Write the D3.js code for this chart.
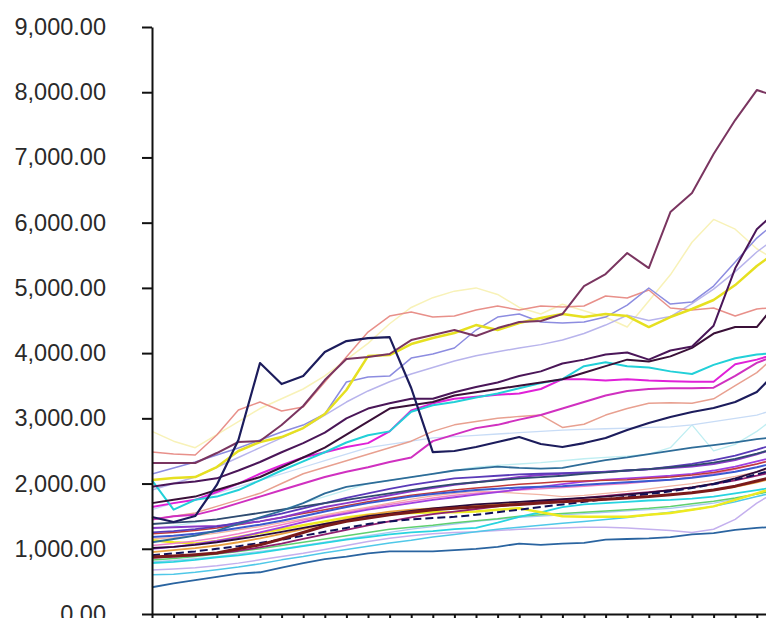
<!DOCTYPE html>
<html>
<head>
<meta charset="utf-8">
<script src="https://cdn.jsdelivr.net/npm/d3@7"></script>
<style>
  html, body { margin: 0; padding: 0; background: #fff; }
  svg { display: block; }
  .eixo text { font-family: "Liberation Sans", Arial, sans-serif; font-size: 23.5px; fill: #2a2a2a; }
  .eixo path, .eixo line { stroke: #111; stroke-width: 2; }
</style>
</head>
<body>
<svg id="grafico" width="766" height="618"></svg>
<script>
// valores por período (30 períodos, o último já fora da área visível)
const yTicks = [0, 1000, 2000, 3000, 4000, 5000, 6000, 7000, 8000, 9000];

const navySpike   = [1487,1410,1502,1978,2667,3848,3526,3649,4017,4185,4231,4246,3465,2483,2499,2560,2637,2713,2606,2560,2621,2698,2821,2928,3020,3097,3158,3250,3403,3740];
const maroonTop   = [2315,2315,2315,2468,2637,2652,2897,3189,3587,3909,3940,3986,4200,4277,4354,4262,4384,4476,4492,4599,5028,5212,5534,5304,6163,6454,7052,7573,8033,7926];
const salmonTop   = [2484,2453,2437,2744,3127,3250,3112,3173,3557,3940,4323,4568,4630,4553,4568,4660,4722,4660,4722,4706,4722,4875,4844,4967,4691,4660,4691,4568,4676,4706];
const yellowMain  = [2054,2085,2100,2253,2499,2637,2713,2851,3066,3434,3955,3970,4139,4231,4308,4430,4354,4461,4538,4599,4553,4599,4568,4400,4553,4676,4814,5043,5335,5580];
const paleYellow  = [2800,2650,2550,2750,2950,3150,3300,3450,3650,3900,4150,4450,4700,4850,4950,5000,4900,4700,4600,4750,4650,4550,4400,4800,5200,5700,6050,5900,5600,5400];
const lavender    = [2146,2238,2330,2437,2545,2667,2790,2897,3066,3557,3633,3648,3924,3986,4078,4354,4553,4599,4476,4461,4476,4553,4737,4998,4752,4783,5028,5396,5764,6040];
const lavenderLt  = [1900,2000,2100,2250,2400,2550,2700,2850,3050,3250,3420,3560,3680,3780,3880,3960,4020,4080,4130,4200,4300,4430,4580,4500,4560,4760,4980,5250,5550,5800];
const purpleDark  = [1950,2000,2030,2080,2200,2330,2480,2620,2780,3000,3150,3230,3300,3300,3400,3480,3550,3650,3720,3840,3900,3980,4010,3900,4040,4100,4420,5300,5900,6200];
const plumDark    = [1700,1750,1800,1900,2000,2100,2250,2400,2550,2750,2950,3150,3200,3250,3350,3400,3450,3500,3550,3600,3700,3800,3900,3870,3950,4080,4300,4400,4400,4800];
const magentaHi   = [1640,1700,1750,1870,2000,2150,2280,2400,2480,2560,2620,2800,3120,3230,3300,3330,3360,3380,3450,3600,3600,3580,3600,3580,3570,3560,3560,3830,3900,4000];
const magentaLo   = [1450,1500,1520,1600,1700,1800,1900,2000,2100,2180,2250,2330,2400,2650,2750,2850,2900,2980,3050,3150,3250,3350,3420,3450,3460,3460,3470,3650,3850,3980];
const cyanHi      = [2050,1600,1750,1800,1900,2050,2200,2340,2480,2630,2740,2800,3100,3200,3250,3320,3380,3460,3540,3600,3800,3860,3800,3780,3720,3680,3820,3920,3980,4000];
const salmonLo    = [1450,1500,1550,1650,1750,1850,2000,2150,2250,2350,2450,2550,2650,2800,2900,2950,3000,3030,3050,2860,2910,3050,3150,3230,3240,3230,3300,3500,3700,4000];
const paleBlueHi  = [1600,1700,1750,1850,1950,2050,2150,2250,2350,2450,2550,2600,2650,2700,2720,2740,2760,2780,2800,2820,2830,2840,2850,2860,2870,2900,2950,3000,3050,3150];
const paleCyan    = [1300,1350,1400,1450,1500,1550,1600,1700,1800,1900,2000,2050,2100,2150,2200,2250,2280,2300,2320,2350,2380,2400,2420,2450,2550,2900,2500,2600,2800,3050];
const tealBlue    = [1100,1150,1200,1280,1380,1480,1580,1700,1850,1950,2000,2050,2100,2150,2200,2230,2260,2240,2230,2240,2300,2360,2400,2450,2500,2550,2590,2630,2680,2720];
const steelLow    = [410,470,520,570,620,640,710,780,840,880,930,960,960,960,980,1000,1030,1080,1060,1080,1090,1140,1150,1160,1180,1220,1240,1290,1320,1340];
const cyanLight   = [600,610,640,680,720,770,830,880,940,990,1040,1090,1130,1180,1220,1260,1300,1330,1360,1390,1420,1450,1480,1520,1560,1600,1650,1720,1800,1880];
const lilacLow    = [675,690,710,740,780,830,880,930,990,1050,1110,1160,1200,1230,1250,1260,1280,1300,1310,1320,1330,1330,1320,1300,1280,1250,1300,1450,1700,1900];
const cyanLow     = [782,800,830,870,900,940,990,1040,1090,1140,1180,1220,1250,1270,1300,1320,1400,1490,1560,1640,1680,1700,1720,1740,1750,1770,1800,1850,1900,1950];
const greenLow    = [828,850,880,920,960,1000,1050,1100,1150,1200,1250,1300,1330,1360,1400,1430,1460,1500,1520,1540,1560,1580,1600,1620,1650,1690,1730,1780,1840,1900];
const darkRed     = [874,890,910,935,1000,1060,1150,1250,1350,1420,1470,1520,1560,1600,1620,1640,1660,1680,1700,1720,1740,1760,1780,1800,1830,1860,1900,1960,2040,2120];
const inkDark     = [1012,1030,1060,1100,1150,1200,1260,1320,1380,1440,1500,1540,1580,1620,1650,1680,1700,1720,1740,1760,1780,1800,1830,1860,1900,1940,2000,2080,2180,2300];
const blueMid     = [1180,1200,1230,1270,1320,1370,1430,1500,1570,1640,1700,1750,1800,1840,1870,1900,1920,1940,1950,1960,1980,2000,2020,2040,2060,2090,2130,2180,2250,2330];
const purpleMid   = [1318,1330,1340,1350,1380,1420,1480,1560,1640,1700,1760,1820,1880,1930,1980,2020,2060,2100,2130,2150,2160,2180,2200,2220,2240,2260,2300,2360,2450,2550];
const orangeMid   = [950,980,1010,1050,1100,1160,1230,1300,1380,1450,1520,1570,1600,1620,1640,1660,1680,1700,1710,1720,1740,1760,1780,1800,1830,1860,1900,1950,2020,2100];
const yellowLow   = [1130,1100,1080,1120,1180,1240,1300,1360,1420,1480,1520,1540,1550,1560,1560,1570,1600,1620,1560,1500,1490,1490,1490,1520,1550,1600,1650,1750,1850,1950];
const pinkMid     = [1050,1080,1120,1170,1230,1300,1370,1440,1500,1560,1620,1680,1730,1780,1820,1850,1880,1900,1920,1940,1960,1980,2000,2030,2060,2100,2150,2220,2300,2400];
const navyDash    = [900,930,960,1000,1040,1090,1140,1200,1260,1320,1380,1420,1450,1470,1490,1520,1560,1600,1640,1680,1720,1760,1800,1840,1880,1930,1990,2060,2140,2230];
const indigoMid   = [1250,1270,1300,1340,1400,1470,1540,1620,1700,1780,1850,1920,1980,2030,2080,2100,2120,2140,2150,2160,2170,2180,2200,2220,2260,2300,2360,2430,2520,2620];
const skyLow      = [800,820,850,880,920,960,1000,1050,1100,1150,1200,1250,1300,1340,1380,1420,1450,1480,1500,1520,1540,1560,1580,1600,1620,1660,1700,1760,1840,1920];
const slateMid    = [1380,1400,1420,1450,1500,1550,1600,1650,1700,1750,1800,1850,1900,1950,1990,2020,2050,2080,2100,2120,2150,2170,2200,2220,2250,2280,2320,2380,2460,2550];
const violetMid   = [1000,1030,1070,1120,1180,1250,1330,1410,1480,1540,1600,1650,1700,1750,1790,1830,1870,1910,1950,1990,2030,2060,2080,2100,2120,2150,2200,2260,2340,2420];
const wineMid     = [860,880,900,930,970,1020,1080,1150,1220,1290,1360,1420,1480,1530,1570,1610,1650,1690,1720,1750,1780,1810,1840,1870,1900,1940,1990,2050,2120,2200];
const redMid      = [1230,1250,1280,1320,1370,1420,1480,1540,1600,1660,1720,1770,1820,1860,1900,1930,1960,1990,2010,2030,2040,2050,2060,2080,2100,2130,2170,2230,2300,2380];
const peachMid    = [1150,1170,1200,1240,1290,1340,1400,1460,1520,1580,1640,1700,1760,1810,1850,1880,1870,1850,1830,1800,1820,1850,1880,1920,1960,2000,2050,2110,2180,2260];

// ordem de desenho: claras atrás, escuras na frente
const series = [
    { v: paleYellow, cor: "#f8f2b8", w: 1.5 },
    { v: paleCyan,   cor: "#bfeef2", w: 1.3 },
    { v: paleBlueHi, cor: "#c8dcf6", w: 1.3 },
    { v: skyLow,     cor: "#a8c8f0", w: 1.3 },
    { v: peachMid,   cor: "#f2b4a4", w: 1.3 },
    { v: lilacLow,   cor: "#c4b0ee", w: 1.5 },
    { v: cyanLight,  cor: "#50c8e8", w: 1.5 },
    { v: greenLow,   cor: "#60d070", w: 1.5 },
    { v: cyanLow,    cor: "#28d4e0", w: 1.8 },
    { v: yellowLow,  cor: "#eeea20", w: 2.5 },
    { v: orangeMid,  cor: "#e8a040", w: 1.8 },
    { v: pinkMid,    cor: "#f080c8", w: 1.5 },
    { v: violetMid,  cor: "#a040e0", w: 1.8 },
    { v: wineMid,    cor: "#902070", w: 1.8 },
    { v: redMid,     cor: "#c03a3a", w: 1.5 },
    { v: blueMid,    cor: "#3a5ad0", w: 2 },
    { v: purpleMid,  cor: "#8a3ac8", w: 2 },
    { v: indigoMid,  cor: "#5a3ab8", w: 1.8 },
    { v: slateMid,   cor: "#304a70", w: 1.8 },
    { v: inkDark,    cor: "#2a0a3a", w: 1.8 },
    { v: navyDash,   cor: "#101058", w: 2, dash: "8,4" },
    { v: darkRed,    cor: "#7a1a1a", w: 3 },
    { v: steelLow,   cor: "#2a64a0", w: 1.8 },
    { v: tealBlue,   cor: "#2e6c98", w: 1.8 },
    { v: salmonLo,   cor: "#e8a090", w: 1.5 },
    { v: lavenderLt, cor: "#b8b4ec", w: 1.5 },
    { v: salmonTop,  cor: "#e8908a", w: 1.5 },
    { v: lavender,   cor: "#8c8ce0", w: 1.5 },
    { v: magentaLo,  cor: "#d030c0", w: 2 },
    { v: magentaHi,  cor: "#e020d8", w: 2 },
    { v: cyanHi,     cor: "#22d0d8", w: 2 },
    { v: yellowMain, cor: "#e6e020", w: 2.5 },
    { v: plumDark,   cor: "#3a1038", w: 2 },
    { v: purpleDark, cor: "#4a1658", w: 2 },
    { v: maroonTop,  cor: "#7a3560", w: 2 },
    { v: navySpike,  cor: "#1c1c5c", w: 2.2 }
];

const svg = d3.select("#grafico");

const x = d3.scaleLinear().domain([0, 29]).range([152, 778.4]);
const y = d3.scaleLinear().domain([0, 9000]).range([614, 27]);

const linha = d3.line()
    .x((d, i) => x(i))
    .y(d => y(d));

svg.append("g")
    .selectAll("path")
    .data(series)
    .join("path")
    .attr("fill", "none")
    .attr("stroke", d => d.cor)
    .attr("stroke-width", d => d.w)
    .attr("stroke-dasharray", d => d.dash || null)
    .attr("stroke-linejoin", "round")
    .attr("d", d => linha(d.v));

svg.append("g")
    .attr("class", "eixo")
    .attr("transform", "translate(152,0)")
    .call(d3.axisLeft(y)
        .tickValues(yTicks)
        .tickFormat(d3.format(",.2f"))
        .tickSize(10)
        .tickSizeOuter(0)
        .tickPadding(36));

svg.append("g")
    .attr("class", "eixo")
    .attr("transform", "translate(0,614)")
    .call(d3.axisBottom(x)
        .tickValues(d3.range(0, 30))
        .tickFormat("")
        .tickSize(8)
        .tickSizeOuter(0));
</script>
</body>
</html>
